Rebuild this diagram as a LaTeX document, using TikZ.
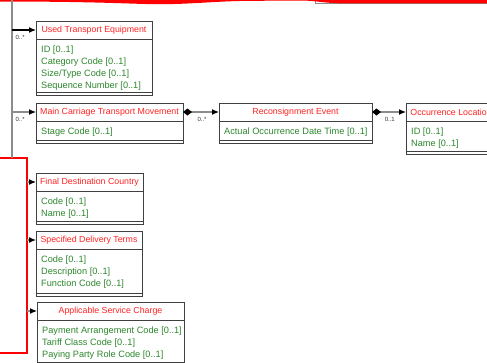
\documentclass[tikz,border=0pt]{standalone}
\usepackage{fontspec}
\setmainfont{Liberation Sans}
\usetikzlibrary{arrows.meta}
\definecolor{headred}{RGB}{255,35,35}
\definecolor{attrgreen}{RGB}{45,135,45}
\definecolor{linegray}{RGB}{140,140,140}
\colorlet{boxline}{black!75}
\tikzset{
  classhead/.style = {draw=boxline, line width=0.8pt, fill=white, minimum height=18,
    inner sep=0pt, outer sep=0pt, text=headred, font=\fontsize{8.8}{10}\selectfont},
  classbody/.style = {draw=boxline, line width=0.8pt, fill=white, inner sep=0pt, outer sep=0pt},
  classops/.style = {draw=boxline, line width=0.8pt, fill=white, minimum height=3.5,
    inner sep=0pt, outer sep=0pt},
  attrs/.style = {align=left, inner xsep=5, inner ysep=6.5, text=attrgreen,
    font=\fontsize{9.2}{12}\selectfont},
  conn/.style = {draw=linegray, line width=1.2pt, -{Latex[length=7pt,width=6pt,color=black]}},
  comp/.style = {conn, {Diamond[length=9pt,width=7pt,color=black]}-{Latex[length=7pt,width=6pt,color=black]}},
  mult/.style = {text=black!80, font=\fontsize{6}{7}\selectfont, inner sep=1pt, anchor=north west}
}
\newcommand{\umlclass}[6]{%
  \node[classhead, minimum width=#3, anchor=north west] (#1) at (#2) {#5};
  \node[classbody, minimum width=#3, minimum height=#4, anchor=north] (#1-body) at (#1.south) {};
  \node[attrs, anchor=north west] (#1-attrs) at (#1-body.north west) {#6};
  \node[classops, minimum width=#3, anchor=north] (#1-ops) at (#1-body.south) {};
}

\begin{document}
\begin{tikzpicture}[x=1pt,y=-1pt]
  \useasboundingbox (0,0) rectangle (487,362);
  \clip (0,0) rectangle (487,362);
  \fill[white] (0,0) rectangle (487,362);
  % top edge of the diagram above
  \draw[linegray, line width=1pt] (315,-3) -- (315,3) -- (490,3);
  \fill[red] (-2,-1) -- (-2,1.5) .. controls (110,1.5) and (135,4.5) .. (165,4.2)
    .. controls (195,3.8) and (220,1) .. (250,0.8) -- (305,0.6)
    .. controls (318,1) and (325,3.3) .. (345,3.4) -- (490,3.4) -- (490,-1) -- cycle;
  \coordinate (trunk) at (12,0);
  \node[draw=red, line width=1.6pt, minimum width=40, minimum height=195,
    inner sep=0pt, outer sep=0pt, anchor=north east] (hilite) at (27,158) {};
  \draw[linegray, line width=1.5pt] (trunk) -- (trunk |- hilite.north);

  \umlclass{ute}{36,21}{116}{53}{Used Transport Equipment}
    {ID [0..1]\\Category Code [0..1]\\Size/Type Code [0..1]\\Sequence Number [0..1]}
  \umlclass{mctm}{36,103}{147}{19}{Main Carriage Transport Movement}{Stage Code [0..1]}
  \umlclass{re}{219,103}{153}{19}{Reconsignment Event}{Actual Occurrence Date Time [0..1]}
  \umlclass{ol}{406,103}{90}{30}{Occurrence Location}{ID [0..1]\\Name [0..1]}
  \umlclass{fdc}{36,173}{107}{30}{Final Destination Country}{Code [0..1]\\Name [0..1]}
  \umlclass{sdt}{36,231}{106}{44}{Specified Delivery Terms}
    {Code [0..1]\\Description [0..1]\\Function Code [0..1]}
  \umlclass{asc}{37,302}{147}{42}{Applicable Service Charge}
    {Payment Arrangement Code [0..1]\\Tariff Class Code [0..1]\\Paying Party Role Code [0..1]}

  \draw[conn, draw=black] (trunk |- ute.west) -- (ute.west)
    node[mult, pos=0, xshift=2, yshift=-4] {0..*};
  \draw[conn] (trunk |- mctm.west) -- (mctm.west)
    node[mult, pos=0, xshift=2, yshift=-4] {0..*};
  \draw[comp] (mctm.east) -- (re.west) node[mult, pos=0.36, yshift=-4] {0..*};
  \draw[comp] (re.east) -- (ol.west) node[mult, pos=0.33, yshift=-4] {0..1};
  \draw[conn] (hilite.east |- fdc.west) -- (fdc.west);
  \draw[conn] (hilite.east |- sdt.west) -- (sdt.west);
  \draw[conn] (hilite.east |- asc.west) -- (asc.west);
\end{tikzpicture}
\end{document}
